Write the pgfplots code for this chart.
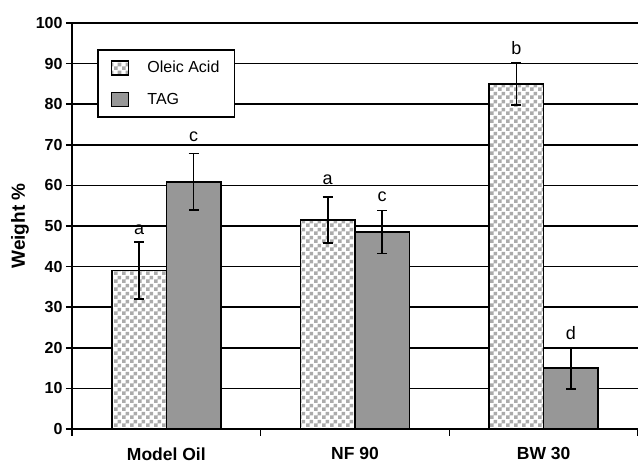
\documentclass[border=0pt]{standalone}
\usepackage{pgfplots}
\pgfplotsset{compat=1.18}
\usepackage{pgfplotstable}
\usepackage{fontspec}
\setmainfont{Liberation Sans}
\usetikzlibrary{patterns}
\pgfdeclarepatternformonly{mycheck}{\pgfqpoint{0pt}{0pt}}{\pgfqpoint{7.6pt}{7.6pt}}{\pgfqpoint{7.6pt}{7.6pt}}{%
 \pgfpathrectangle{\pgfqpoint{0pt}{0pt}}{\pgfqpoint{3.8pt}{3.8pt}}%
 \pgfpathrectangle{\pgfqpoint{3.8pt}{3.8pt}}{\pgfqpoint{3.8pt}{3.8pt}}%
 \pgfusepath{fill}}
\definecolor{checkgray}{HTML}{ABABAB}
\definecolor{taggray}{HTML}{979797}

\pgfplotstableread{
x y e
0 39.0 7.0
1 51.5 5.7
2 85.0 5.2
}\oleicdata
\pgfplotstableread{
x y e
0 60.9 7.0
1 48.5 5.3
2 15.0 5.1
}\tagdata

\begin{document}
\begin{tikzpicture}
\path[use as bounding box] (-72pt,-36pt) rectangle (566pt,429pt);
\begin{axis}[
 scale only axis, width=566pt, height=406pt,
 ybar=0pt, bar width=54.5pt,
 xmin=-0.5, xmax=2.5, ymin=0, ymax=100,
 axis x line=bottom, axis y line=left,
 axis line style={-, line width=1.6pt, black},
 xtick={0,1,2}, xticklabels={Model Oil, NF 90, BW 30},
 minor xtick={-0.5,0.5,1.5,2.5},
 major x tick style={draw=none},
 ytick={0,10,...,100},
 tick align=outside, major tick length=6pt, minor tick length=7pt,
 tick style={line width=1.6pt, black},
 ymajorgrids, grid style={line width=1.6pt, black},
 /pgf/number format/assume math mode=true,
 ticklabel style={font=\fontsize{16}{19}\selectfont\bfseries},
 xticklabel style={font=\fontsize{17.5}{20}\selectfont\bfseries, yshift=-9pt},
 ylabel={Weight \%},
 every axis y label/.style={at={(axis description cs:-0.092,0.5)}, rotate=90, anchor=center, font=\fontsize{19}{22}\selectfont\bfseries},
 legend style={at={(rel axis cs:0.0442,0.935)}, anchor=north west, draw=black, line width=1.6pt, fill=white,
   font=\fontsize{16}{19}\selectfont, inner xsep=13pt, inner ysep=9pt, row sep=15pt,
   /tikz/every odd column/.append style={column sep=16pt}},
 legend cell align=left,
 legend image code/.code={\draw[#1, line width=1.6pt] (0pt,-7pt) rectangle (17pt,7pt);},
]
\addplot[draw=black, line width=1.6pt, preaction={fill=white}, pattern=mycheck, pattern color=checkgray,
  error bars/.cd, y dir=both, y explicit, error bar style={line width=1.6pt, black}, error mark options={rotate=90, mark size=5pt, line width=1.6pt, black}]
  table[x=x, y=y, y error=e] {\oleicdata};
\addplot[draw=black, line width=1.6pt, fill=taggray,
  error bars/.cd, y dir=both, y explicit, error bar style={line width=1.6pt, black}, error mark options={rotate=90, mark size=5pt, line width=1.6pt, black}]
  table[x=x, y=y, y error=e] {\tagdata};
\addlegendentry{Oleic Acid\hspace{19pt}}
\addlegendentry{TAG}
\node[font=\fontsize{18}{21}\selectfont] at (axis cs:-0.1444,49) {a};
\node[font=\fontsize{18}{21}\selectfont] at (axis cs:0.1444,72) {c};
\node[font=\fontsize{18}{21}\selectfont] at (axis cs:0.8556,61.3) {a};
\node[font=\fontsize{18}{21}\selectfont] at (axis cs:1.1444,57.3) {c};
\node[font=\fontsize{18}{21}\selectfont] at (axis cs:1.8556,93.8) {b};
\node[font=\fontsize{18}{21}\selectfont] at (axis cs:2.1444,23.7) {d};
\end{axis}
\end{tikzpicture}
\end{document}
